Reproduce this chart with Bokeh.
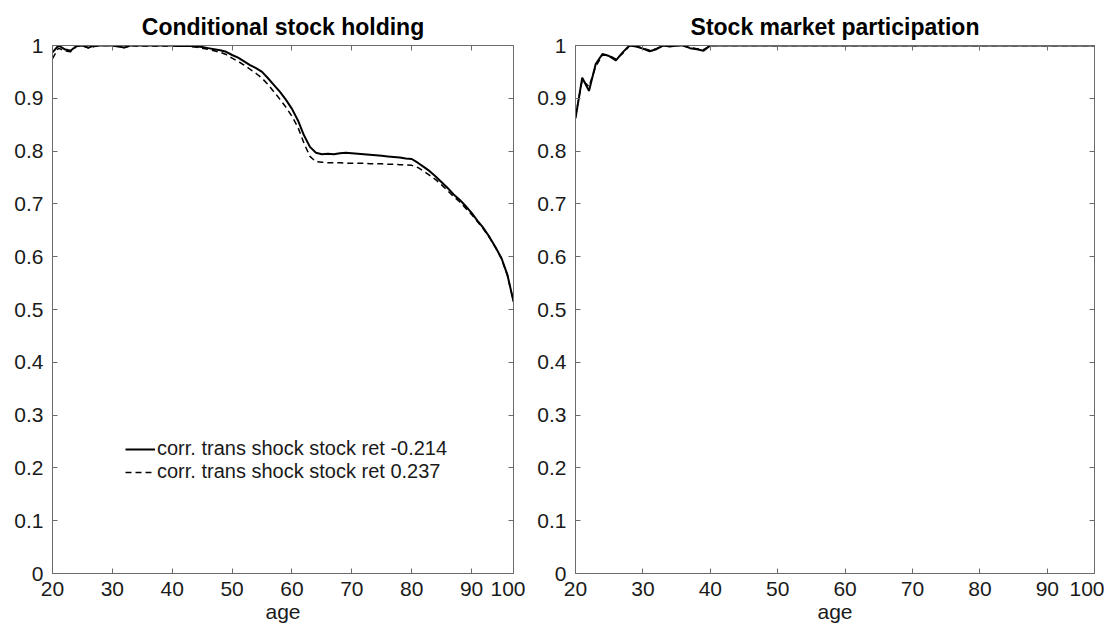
from bokeh.plotting import figure
from bokeh.layouts import row
from bokeh.models import FixedTicker, NumeralTickFormatter, LinearAxis, Range1d
from bokeh.embed import file_html
from bokeh.resources import INLINE

# ---- data ----
ages = list(range(20, 98))  # plotted age positions (last tick labelled 100)
x_ticks = [20, 30, 40, 50, 60, 70, 80, 90, 97]
x_tick_labels = ["20", "30", "40", "50", "60", "70", "80", "90", "100"]
y_ticks = [0, 0.1, 0.2, 0.3, 0.4, 0.5, 0.6, 0.7, 0.8, 0.9, 1]

legend_labels = ["corr. trans shock stock ret -0.214", "corr. trans shock stock ret 0.237"]
titles = ["Conditional stock holding", "Stock market participation"]

holding_neg = [
    0.987, 1.000, 0.993, 0.990, 0.999, 1.000, 0.996, 1.000, 1.000, 1.000,  # 20-29
    1.000, 0.998, 0.996, 1.000, 1.000, 1.000, 1.000, 1.000, 1.000, 1.000,  # 30-39
    1.000, 0.999, 0.999, 0.999, 0.998, 0.997, 0.995, 0.993, 0.991, 0.988,  # 40-49
    0.982, 0.977, 0.970, 0.963, 0.957, 0.950, 0.938, 0.925, 0.912, 0.897,  # 50-59
    0.880, 0.858, 0.830, 0.808, 0.797, 0.794, 0.795, 0.794, 0.796, 0.797,  # 60-69
    0.796, 0.795, 0.794, 0.793, 0.792, 0.791, 0.790, 0.789, 0.788, 0.786,  # 70-79
    0.785, 0.778, 0.770, 0.762, 0.752, 0.741, 0.730, 0.718, 0.708, 0.696,  # 80-89
    0.683, 0.668, 0.654, 0.637, 0.618, 0.597, 0.565, 0.515,                # 90-97
]
holding_pos = [
    0.975, 0.995, 0.990, 0.988, 0.998, 1.000, 0.995, 0.998, 1.000, 1.000,  # 20-29
    1.000, 0.998, 0.996, 1.000, 0.999, 0.999, 0.999, 0.999, 0.999, 0.999,  # 30-39
    0.999, 0.999, 0.999, 0.998, 0.997, 0.995, 0.993, 0.990, 0.987, 0.983,  # 40-49
    0.976, 0.970, 0.963, 0.955, 0.947, 0.938, 0.926, 0.912, 0.898, 0.883,  # 50-59
    0.866, 0.845, 0.815, 0.790, 0.780, 0.779, 0.778, 0.778, 0.778, 0.777,  # 60-69
    0.777, 0.777, 0.777, 0.776, 0.776, 0.776, 0.775, 0.775, 0.774, 0.774,  # 70-79
    0.773, 0.769, 0.762, 0.754, 0.746, 0.736, 0.725, 0.714, 0.704, 0.692,  # 80-89
    0.680, 0.666, 0.652, 0.636, 0.617, 0.596, 0.564, 0.515,                # 90-97
]
particip_neg = [
    0.862, 0.939, 0.914, 0.965, 0.984, 0.980, 0.972, 0.987, 1.000, 0.998,  # 20-29
    0.994, 0.989, 0.993, 1.000, 0.998, 1.000, 1.000, 0.995, 0.993, 0.990,  # 30-39
] + [1.000] * 58
particip_pos = [
    0.866, 0.935, 0.922, 0.960, 0.982, 0.981, 0.974, 0.985, 0.999, 0.999,  # 20-29
    0.995, 0.991, 0.994, 1.000, 0.999, 1.000, 0.999, 0.996, 0.994, 0.992,  # 30-39
] + [1.000] * 58

FONT = "Liberation Sans"
AX_COL = "#6b6b6b"
TXT_COL = "#1a1a1a"


def style_axis(ax, labels=True):
    ax.axis_line_color = AX_COL
    ax.major_tick_line_color = AX_COL
    ax.major_tick_in = 5
    ax.major_tick_out = 0
    ax.minor_tick_line_color = None
    ax.major_label_text_font = FONT
    ax.major_label_text_color = TXT_COL
    if labels:
        ax.major_label_text_font_size = "21px"
    else:
        # mirrored tick marks only (MATLAB box style): labels not drawn
        ax.major_label_text_color = None
        ax.major_label_text_font_size = "1px"
        ax.major_label_standoff = 0


def make_plot(title, y1, y2, frame_w, border_l, border_r, with_legend):
    p = figure(frame_width=frame_w, frame_height=528, output_backend="svg",
               toolbar_location=None, x_range=Range1d(20, 97), y_range=Range1d(0, 1),
               min_border_left=border_l, min_border_right=border_r,
               min_border_top=45, min_border_bottom=50)
    p.title.text = title
    p.title.align = "center"
    p.title.text_font = FONT
    p.title.text_font_style = "bold"
    p.title.text_font_size = "23px"
    p.title.text_color = "#000000"
    p.title.standoff = 12
    p.xgrid.visible = False
    p.ygrid.visible = False
    p.outline_line_color = None
    p.background_fill_color = "white"
    p.border_fill_color = "white"

    xt = FixedTicker(ticks=x_ticks)
    yt = FixedTicker(ticks=y_ticks)
    p.xaxis.ticker = xt
    p.xaxis.major_label_overrides = {t: l for t, l in zip(x_ticks, x_tick_labels)}
    p.yaxis.ticker = yt
    p.yaxis.formatter = NumeralTickFormatter(format="0.[0]")
    style_axis(p.xaxis[0])
    style_axis(p.yaxis[0])
    p.xaxis.major_label_standoff = 8
    p.yaxis.major_label_standoff = 9
    p.xaxis.axis_label = "age"
    p.xaxis.axis_label_text_font = FONT
    p.xaxis.axis_label_text_font_style = "normal"
    p.xaxis.axis_label_text_font_size = "21px"
    p.xaxis.axis_label_text_color = TXT_COL
    p.xaxis.axis_label_standoff = 1

    top = LinearAxis(ticker=FixedTicker(ticks=x_ticks))
    style_axis(top, labels=False)
    p.add_layout(top, "above")
    right = LinearAxis(ticker=FixedTicker(ticks=y_ticks))
    style_axis(right, labels=False)
    p.add_layout(right, "right")

    if with_legend:
        p.line(ages, y1, line_color="black", line_width=2, legend_label=legend_labels[0])
        p.line(ages, y2, line_color="black", line_width=1.5, line_dash="6 4",
               legend_label=legend_labels[1])
        lg = p.legend[0]
        lg.location = (73, 90)
        lg.padding = 0
        lg.spacing = 0
        lg.margin = 0
        lg.glyph_width = 30
        lg.glyph_height = 20
        lg.label_height = 20
        lg.label_standoff = 2
        lg.label_text_font = FONT
        lg.label_text_font_size = "20px"
        lg.label_text_color = TXT_COL
        lg.border_line_color = None
        lg.background_fill_alpha = 0
    else:
        p.line(ages, y2, line_color="black", line_width=1.5, line_dash="6 4")
        p.line(ages, y1, line_color="black", line_width=2)
    return p


p1 = make_plot(titles[0], holding_neg, holding_pos, 461, 52, 12, True)
p2 = make_plot(titles[1], particip_neg, particip_pos, 519, 50, 10, False)

layout = row(p1, p2)
open("out.html", "w").write(file_html(layout, INLINE))
